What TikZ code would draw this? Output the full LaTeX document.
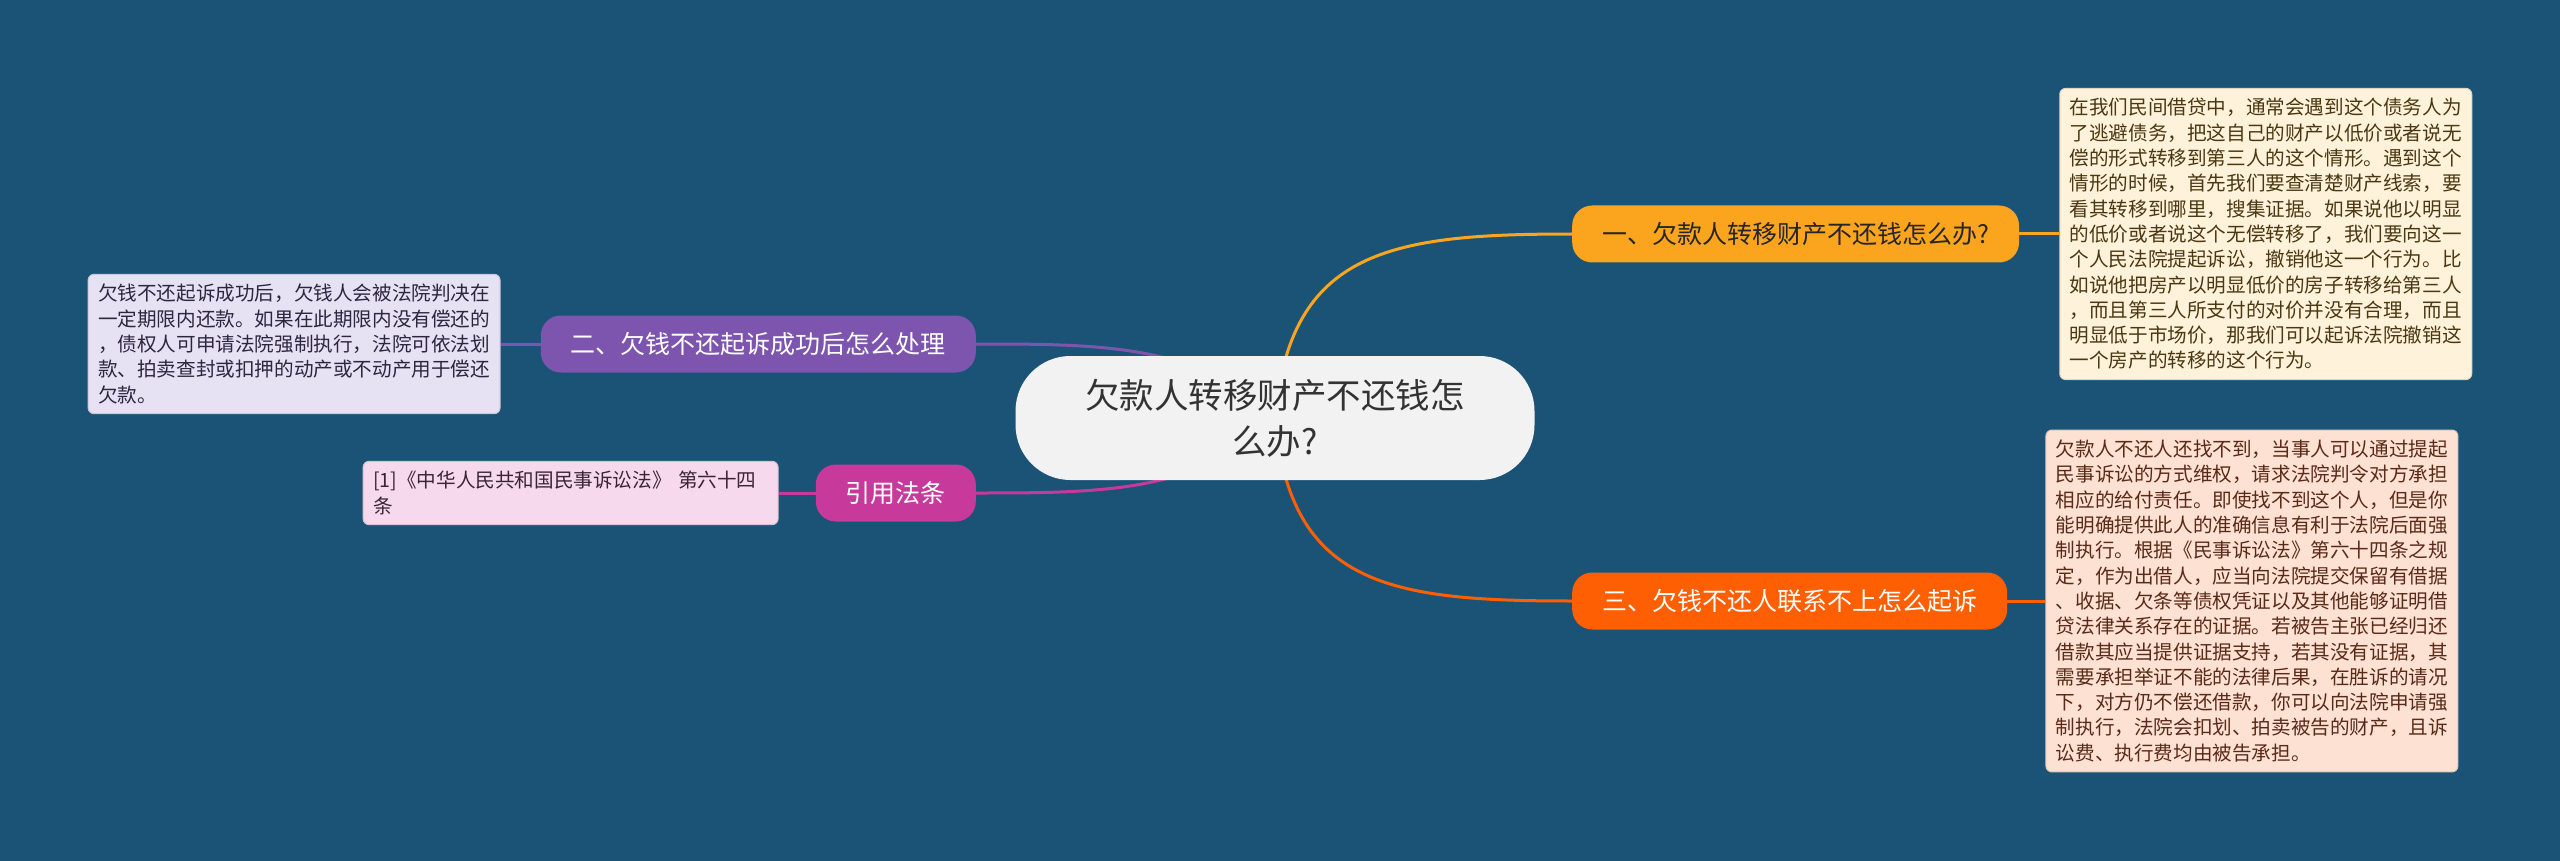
\documentclass[tikz,border=0pt]{standalone}
\usepackage{fontspec}
\setmainfont{Noto Sans CJK SC}
\usetikzlibrary{positioning}
\definecolor{bgblue}{HTML}{1A5376}
\definecolor{cOne}{HTML}{FBA51E}
\definecolor{cTwo}{HTML}{7D55AE}
\definecolor{cThree}{HTML}{FF5F03}
\definecolor{cFour}{HTML}{C7399A}
\definecolor{lOne}{HTML}{FFF2DA}
\definecolor{lTwo}{HTML}{E6E1F3}
\definecolor{lThree}{HTML}{FDE1D3}
\definecolor{lFour}{HTML}{F6D9EC}
\definecolor{tOne}{HTML}{4A3812}
\definecolor{tTwo}{HTML}{2D2640}
\definecolor{tThree}{HTML}{5A2A18}
\definecolor{tFour}{HTML}{3A2535}
\pgfdeclarelayer{back}
\pgfsetlayers{back,main}
\begin{document}
\begin{tikzpicture}[x=1pt, y=-1pt,
  node distance=38pt,
  root/.style={fill=black!5, rounded corners=55pt, minimum width=519pt, minimum height=124pt,
               align=center, text=black!80, font=\fontsize{34.5}{46}\selectfont},
  topic/.style={fill=#1, rounded corners=20pt, minimum height=57pt, inner xsep=30pt,
                text=white, font=\fontsize{25}{30}\selectfont},
  leaf/.style={fill=#1, draw=#1!88!black, line width=1pt, rounded corners=6pt, align=left,
               inner xsep=10pt, inner ysep=10pt, font=\fontsize{19.6}{25.3}\selectfont},
  link/.style={line width=3pt, draw=#1}]
\node[root] (c) at (1275,418) {欠款人转移财产不还钱怎\\么办?};
\node[topic=cOne, text=black!85, anchor=west] (b1) at (1572,234) {一、欠款人转移财产不还钱怎么办?};
\node[topic=cThree, anchor=west] (b3) at (1572,601) {三、欠钱不还人联系不上怎么起诉};
\node[topic=cTwo, anchor=east] (b2) at (976,344) {二、欠钱不还起诉成功后怎么处理};
\node[topic=cFour, anchor=east] (b4) at (976,493) {引用法条};
\node[leaf=lOne, text=tOne, right=40pt of b1] (l1) {在我们民间借贷中，通常会遇到这个债务人为\\了逃避债务，把这自己的财产以低价或者说无\\偿的形式转移到第三人的这个情形。遇到这个\\情形的时候，首先我们要查清楚财产线索，要\\看其转移到哪里，搜集证据。如果说他以明显\\的低价或者说这个无偿转移了，我们要向这一\\个人民法院提起诉讼，撤销他这一个行为。比\\如说他把房产以明显低价的房子转移给第三人\\，而且第三人所支付的对价并没有合理，而且\\明显低于市场价，那我们可以起诉法院撤销这\\一个房产的转移的这个行为。};
\node[leaf=lThree, text=tThree, right=of b3] (l3) {欠款人不还人还找不到，当事人可以通过提起\\民事诉讼的方式维权，请求法院判令对方承担\\相应的给付责任。即使找不到这个人，但是你\\能明确提供此人的准确信息有利于法院后面强\\制执行。根据《民事诉讼法》第六十四条之规\\定，作为出借人，应当向法院提交保留有借据\\、收据、欠条等债权凭证以及其他能够证明借\\贷法律关系存在的证据。若被告主张已经归还\\借款其应当提供证据支持，若其没有证据，其\\需要承担举证不能的法律后果，在胜诉的请况\\下，对方仍不偿还借款，你可以向法院申请强\\制执行，法院会扣划、拍卖被告的财产，且诉\\讼费、执行费均由被告承担。};
\node[leaf=lTwo, text=tTwo, left=40pt of b2] (l2) {欠钱不还起诉成功后，欠钱人会被法院判决在\\一定期限内还款。如果在此期限内没有偿还的\\，债权人可申请法院强制执行，法院可依法划\\款、拍卖查封或扣押的动产或不动产用于偿还\\欠款。};
\node[leaf=lFour, text=tFour, text width=395pt, left=37pt of b4] (l4) {[1]《中华人民共和国民事诉讼法》 第六十四\\条};
\begin{pgfonlayer}{back}
\fill[bgblue] (0,0) rectangle (2560,861);
\draw[link=cOne] (c.center) .. controls (1290,250) and (1390,234) .. (b1.west);
\draw[link=cThree] (c.center) .. controls (1290,586) and (1390,601) .. (b3.west);
\draw[link=cTwo] (c.center) .. controls (1200,344) and (1100,344) .. (b2.east);
\draw[link=cFour] (c.center) .. controls (1200,493) and (1100,493) .. (b4.east);
\draw[link=cOne] (b1) -- (l1);
\draw[link=cThree] (b3) -- (l3);
\draw[link=cTwo] (b2) -- (l2);
\draw[link=cFour] (b4) -- (l4);
\end{pgfonlayer}
\useasboundingbox (0,0) rectangle (2560,861);
\end{tikzpicture}
\end{document}
